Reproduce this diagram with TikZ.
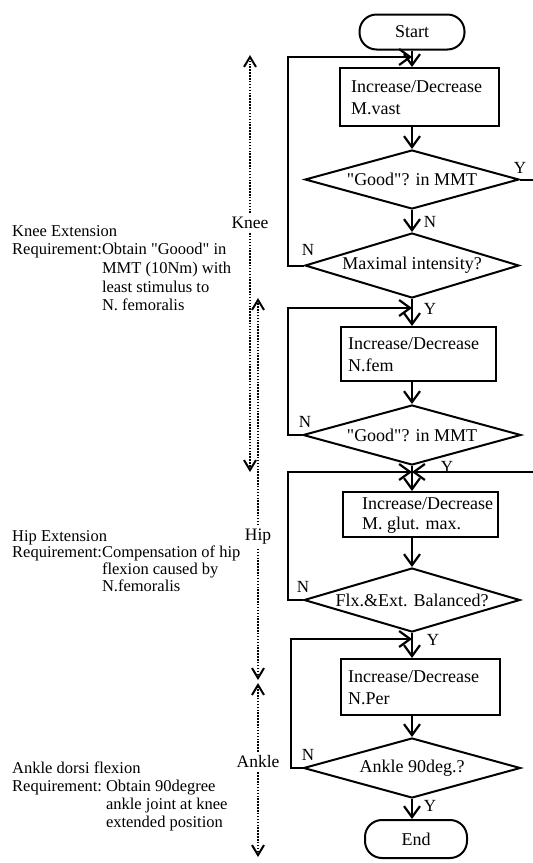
\documentclass[tikz,border=0pt]{standalone}
\usepackage{fontspec}
\setmainfont{Liberation Serif}
\newfontfamily\qfont{Liberation Serif}
\usetikzlibrary{arrows.meta,shapes.geometric}
\newcommand{\dq}{{\qfont\symbol{34}}}
\begin{document}
\begin{tikzpicture}[x=1pt,y=-1pt,
  flow/.style={line width=2pt,-{Straight Barb[length=11pt,width=16pt,line width=2.2pt]}},
  fline/.style={line width=2pt},
  bx/.style={draw,line width=2pt,inner sep=0pt},
  btext/.style={anchor=west,align=left,inner sep=0pt,font=\fontsize{18}{22}\selectfont,yshift=-1pt},
  term/.style={draw,line width=2pt,rounded corners=17pt,inner sep=0pt,font=\fontsize{18}{22}\selectfont},
  dia/.style={draw,diamond,line width=2pt,inner sep=0pt,font=\fontsize{18}{22}\selectfont},
  yn/.style={inner sep=0pt,font=\fontsize{17}{20}\selectfont},
  side/.style={inner xsep=1pt,inner ysep=4pt,font=\fontsize{17.5}{20}\selectfont},
  dots/.style={line width=1.8pt,dash pattern=on 1.5pt off 1.4pt,-{Straight Barb[length=10pt,width=12pt,line width=2pt]}},
  note/.style={anchor=base west,inner sep=0pt}
]
\path[fill=white,use as bounding box] (0,0) rectangle (533,863);

% helper coordinates
\coordinate (L1) at (288,0);
\coordinate (L2) at (291,0);
\coordinate (R) at (535,0);
\coordinate (j1) at (412,57);
\coordinate (j2) at (412,308);
\coordinate (j3) at (412,472);
\coordinate (j4) at (412,639);

% flowchart nodes
\node[term,minimum width=105pt,minimum height=35pt] (st) at (412,32) {Start};
\node[bx,minimum width=159pt,minimum height=58pt] (b1) at (419.5,97) {};
\node[btext] (b1t) at ([xshift=12pt]b1.west) {Increase/Decrease\\M.vast};
\node[dia,minimum width=214pt,minimum height=59pt] (d1) at (412,179.5) {\makebox[0pt]{\dq Good\dq? in MMT}};
\node[dia,minimum width=214pt,minimum height=65pt] (d2) at (412,265.5) {\makebox[0pt]{Maximal intensity?}};
\node[bx,minimum width=155pt,minimum height=54pt] (b2) at (418.5,354) {};
\node[btext] (b2t) at ([xshift=8pt]b2.west) {Increase/Decrease\\N.fem};
\node[dia,minimum width=218pt,minimum height=60pt] (d3) at (412,435) {\makebox[0pt]{\dq Good\dq? in MMT}};
\node[bx,minimum width=155pt,minimum height=45pt] (b3) at (420.5,514.5) {};
\node[btext,font=\fontsize{18}{20}\selectfont] (b3t) at ([xshift=20pt]b3.west) {Increase/Decrease\\M. glut. max.};
\node[dia,minimum width=216pt,minimum height=64pt] (d4) at (412,600) {\makebox[0pt]{Flx.\&Ext. Balanced?}};
\node[bx,minimum width=159pt,minimum height=56pt] (b4) at (420.5,687) {};
\node[btext] (b4t) at ([xshift=8pt]b4.west) {Increase/Decrease\\N.Per};
\node[dia,minimum width=217pt,minimum height=60pt] (d5) at (412,768) {\makebox[0pt]{Ankle 90deg.?}};
\node[term,minimum width=102pt,minimum height=38pt] (en) at (416,839) {End};

% connectors
\draw[flow] (st.south) -- (st.south |- b1.north);
\draw[flow] (b1.south -| d1.north) -- (d1.north);
\draw[flow] (d1.south) -- (d2.north);
\draw[fline] (d1.east) -- (d1.east -| R);
\draw[flow] (d2.west) -- (d2.west -| L1) |- (j1);
\draw[flow] (d2.south) -- (d2.south |- b2.north);
\draw[flow] (b2.south -| d3.north) -- (d3.north);
\draw[flow] (d3.west) -- (d3.west -| L1) |- (j2);
\draw[flow] (d3.south) -- (d3.south |- b3.north);
\draw[flow] (j3 -| R) -- (j3);
\draw[flow] (d4.west) -- (d4.west -| L1) |- (j3);
\draw[flow] (b3.south -| d4.north) -- (d4.north);
\draw[flow] (d4.south) -- (d4.south |- b4.north);
\draw[flow] (d5.west) -- (d5.west -| L2) |- (j4);
\draw[flow] (b4.south -| d5.north) -- (d5.north);
\draw[flow] (d5.south) -- (d5.south |- en.north);

% Y / N labels
\node[yn] (n1) at (430,222) {N};
\node[yn] (y1) at (520,168) {Y};
\node[yn] (n2) at (308,250) {N};
\node[yn] (y2) at (430,309) {Y};
\node[yn] (n3) at (305,422) {N};
\node[yn] (y3) at (447,467) {Y};
\node[yn] (n4) at (303,587) {N};
\node[yn] (y4) at (433,640) {Y};
\node[yn] (n5) at (308,755) {N};
\node[yn] (y5) at (430,806) {Y};

% side ranges
\node[side] (knee) at (250,223) {Knee};
\coordinate (kt) at (250,55);
\coordinate (kb) at (250,472);
\draw[dots] (knee.north) -- (kt);
\draw[dots] (knee.south) -- (kb);

\node[side] (hip) at (258,537) {Hip};
\coordinate (ht) at (258,298);
\coordinate (hb) at (258,680);
\draw[dots] (hip.north) -- (ht);
\draw[dots] (hip.south) -- (hb);

\node[side] (ank) at (258,762) {Ankle};
\coordinate (at) at (258,683);
\coordinate (ab) at (258,857);
\draw[dots] (ank.north) -- (at);
\draw[dots] (ank.south) -- (ab);

% notes
\node[note] (kn) at (12,236) {\fontsize{16.5}{18.7}\selectfont\begin{tabular}[t]{@{}l@{}l@{}}\multicolumn{2}{@{}l@{}}{Knee Extension}\\Requirement:&Obtain \dq Goood\dq{} in\\&MMT (10Nm) with\\&least stimulus to\\&N. femoralis\end{tabular}};
\node[note] (hn) at (12,541) {\fontsize{16.5}{16.8}\selectfont\begin{tabular}[t]{@{}l@{}l@{}}\multicolumn{2}{@{}l@{}}{Hip Extension}\\Requirement:&Compensation of hip\\&flexion caused by\\&N.femoralis\end{tabular}};
\node[note] (an) at (12,773) {\fontsize{16.5}{18.3}\selectfont\begin{tabular}[t]{@{}l@{}l@{}}\multicolumn{2}{@{}l@{}}{Ankle dorsi flexion}\\Requirement:\kern4pt&Obtain 90degree\\&ankle joint at knee\\&extended position\end{tabular}};
\end{tikzpicture}
\end{document}
